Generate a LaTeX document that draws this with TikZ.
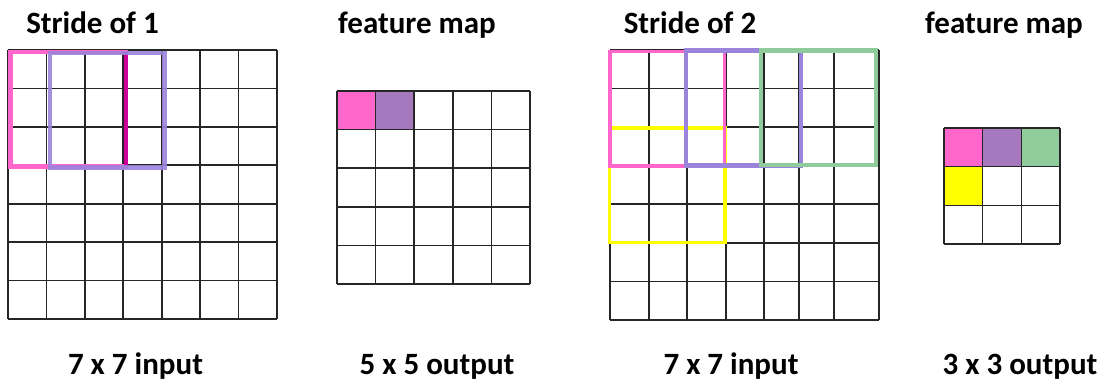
\documentclass[tikz,border=0pt]{standalone}
\usepackage{fontspec}
\setmainfont{Carlito}
\usepackage{xcolor}

\definecolor{hotpink}{HTML}{FF66CC}
\definecolor{deeppink}{HTML}{CC0099}
\definecolor{lavender}{HTML}{9B84DB}
\definecolor{mauve}{HTML}{A678BE}
\definecolor{sage}{HTML}{8FCB9B}
\definecolor{lemon}{HTML}{FFFF00}

\tikzset{
  cell/.style={draw=black!85, line width=1.6pt},
  title/.style={font=\fontsize{31}{36}\selectfont\bfseries, anchor=base, inner sep=0pt},
  window/.style={line width=4.4pt}
}

\begin{document}
\begin{tikzpicture}[x=1pt, y=-1pt]
\useasboundingbox (0,0) rectangle (1102,381);

% left input grid
\foreach \k in {0,...,7}{
  \draw[cell] ({8+\k*38.43},50) -- ({8+\k*38.43},319);
  \draw[cell] (8,{50+\k*38.43}) -- (277,{50+\k*38.43});
}

% first feature map
\fill[hotpink] (337,91) rectangle (375.6,129.6);
\fill[mauve] (375.6,91) rectangle (414.2,129.6);
\foreach \k in {0,...,5}{
  \draw[cell] ({337+\k*38.6},91) -- ({337+\k*38.6},284);
  \draw[cell] (337,{91+\k*38.6}) -- (530,{91+\k*38.6});
}

% right input grid
\foreach \x in {610,649,687,726,764,799,834,879}
  \draw[cell] (\x,50) -- (\x,320);
\foreach \k in {0,...,7}
  \draw[cell] (610,{50+\k*38.57}) -- (879,{50+\k*38.57});

% second feature map
\fill[hotpink] (944,128) rectangle (982.7,166.7);
\fill[mauve] (982.7,128) rectangle (1021.3,166.7);
\fill[sage] (1021.3,128) rectangle (1060,166.7);
\fill[lemon] (944,166.7) rectangle (982.7,205.3);
\foreach \k in {0,...,3}{
  \draw[cell] ({944+\k*38.67},128) -- ({944+\k*38.67},244);
  \draw[cell] (944,{128+\k*38.67}) -- (1060,{128+\k*38.67});
}

% stride 1 windows
\draw[window, hotpink] (10.5,52) rectangle (126,166.5);
\draw[window, deeppink] (126,52) -- (126,166.5);
\draw[window, lavender, opacity=0.9] (50,53) rectangle (164.5,167.5);

% stride 2 windows
\draw[window, lemon, line width=3.6pt] (609.5,128) rectangle (725,242.5);
\draw[window, hotpink, line width=3.6pt] (610,51.5) rectangle (724.5,166);
\draw[window, lavender] (686,50.5) rectangle (801,165.5);
\draw[window, sage] (761,50.5) rectangle (876,165);

% labels
\node[title] (stride1) at (92.5,33) {Stride of 1};
\node[title] (fmap1) at (417,33) {feature map};
\node[title] (stride2) at (690,33) {Stride of 2};
\node[title] (fmap2) at (1004,33) {feature map};
\node[title] (in1) at (135.5,374) {7 x 7 input};
\node[title] (out1) at (437,374) {5 x 5 output};
\node[title] (in2) at (731,374) {7 x 7 input};
\node[title] (out2) at (1020,374) {3 x 3 output};
\end{tikzpicture}
\end{document}
